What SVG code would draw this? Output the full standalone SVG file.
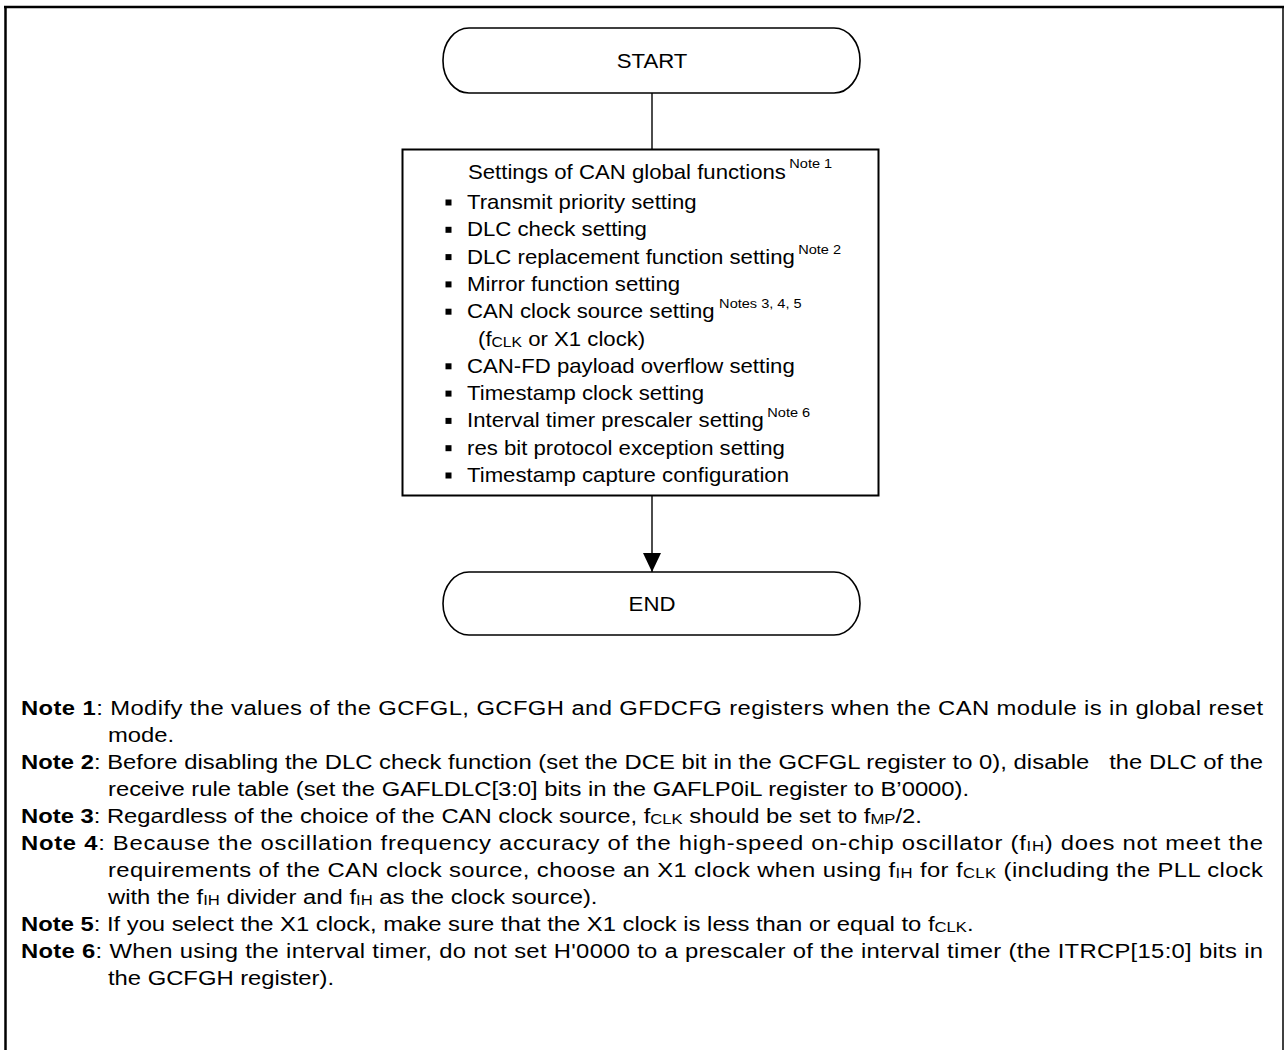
<svg xmlns="http://www.w3.org/2000/svg" width="1286" height="1050" viewBox="0 0 1286 1050">
  <defs>
    <style>
      .frame { stroke: #000; fill: none; }
      .term { fill: #fff; stroke: #000; stroke-width: 1.6; }
      .proc { fill: #fff; stroke: #000; stroke-width: 2; }
      .wire { stroke: #000; stroke-width: 1.4; fill: none; }
      .bx { font-family: "Liberation Sans", Arial, sans-serif; font-size: 19.8px; fill: #000; }
      .sup { font-size: 13px; }
      .sub { font-size: 14px; }
      .nt { font-family: "Liberation Sans", Arial, sans-serif; font-size: 20px; fill: #000; }
      .nb { font-weight: bold; }
      .ns { font-size: 14px; }
      .bullet { fill: #000; }
    </style>
    <marker id="arrow" viewBox="0 0 19 18" refX="19" refY="9" markerWidth="19" markerHeight="18" markerUnits="userSpaceOnUse" orient="auto">
      <path d="M0,0 L19,9 L0,18 z" fill="#000"/>
    </marker>
  </defs>

  <rect width="1286" height="1050" fill="#fff"/>

  <!-- page frame (open at the bottom) -->
  <g id="frame" class="frame">
    <line x1="4" y1="7" x2="1284" y2="7" stroke-width="2.5"/>
    <line x1="5.5" y1="6" x2="5.5" y2="1050" stroke-width="2.5"/>
    <line x1="1283" y1="6" x2="1283" y2="1050" stroke-width="1.5"/>
  </g>

  <!-- connectors -->
  <g id="connectors">
    <line class="wire" x1="652" y1="93" x2="652" y2="149"/>
    <line class="wire" x1="652" y1="496" x2="652" y2="572" marker-end="url(#arrow)"/>
  </g>

  <!-- START terminator -->
  <g id="start">
    <rect class="term" x="443" y="28" width="417" height="65" rx="26" ry="32"/>
    <text class="bx" text-anchor="middle" transform="translate(652,67.5) scale(1.12,1)">START</text>
  </g>

  <!-- global function settings -->
  <g id="settings">
    <rect class="proc" x="402.5" y="149.5" width="476" height="346"/>
    <text class="bx" transform="translate(468,179) scale(1.12,1)">Settings of CAN global functions<tspan class="sup" dx="3" dy="-11">Note 1</tspan></text>

    <rect class="bullet" x="445.5" y="199.5" width="6" height="6"/>
    <text class="bx" transform="translate(467,209) scale(1.12,1)">Transmit priority setting</text>

    <rect class="bullet" x="445.5" y="226.8" width="6" height="6"/>
    <text class="bx" transform="translate(467,236.3) scale(1.12,1)">DLC check setting</text>

    <rect class="bullet" x="445.5" y="254.1" width="6" height="6"/>
    <text class="bx" transform="translate(467,263.6) scale(1.12,1)">DLC replacement function setting<tspan class="sup" dx="3" dy="-10">Note 2</tspan></text>

    <rect class="bullet" x="445.5" y="281.4" width="6" height="6"/>
    <text class="bx" transform="translate(467,290.9) scale(1.12,1)">Mirror function setting</text>

    <rect class="bullet" x="445.5" y="308.7" width="6" height="6"/>
    <text class="bx" transform="translate(467,318.2) scale(1.12,1)">CAN clock source setting<tspan class="sup" dx="4" dy="-10">Notes 3, 4, 5</tspan></text>
    <text class="bx" transform="translate(478,345.5) scale(1.12,1)">(f<tspan class="sub" dy="1">CLK</tspan><tspan dy="-1"> or X1 clock)</tspan></text>

    <rect class="bullet" x="445.5" y="363.3" width="6" height="6"/>
    <text class="bx" transform="translate(467,372.8) scale(1.12,1)">CAN-FD payload overflow setting</text>

    <rect class="bullet" x="445.5" y="390.6" width="6" height="6"/>
    <text class="bx" transform="translate(467,400.1) scale(1.12,1)">Timestamp clock setting</text>

    <rect class="bullet" x="445.5" y="417.9" width="6" height="6"/>
    <text class="bx" transform="translate(467,427.4) scale(1.12,1)">Interval timer prescaler setting<tspan class="sup" dx="3" dy="-10">Note 6</tspan></text>

    <rect class="bullet" x="445.5" y="445.2" width="6" height="6"/>
    <text class="bx" transform="translate(467,454.7) scale(1.12,1)">res bit protocol exception setting</text>

    <rect class="bullet" x="445.5" y="472.5" width="6" height="6"/>
    <text class="bx" transform="translate(467,482) scale(1.12,1)">Timestamp capture configuration</text>
  </g>

  <!-- END terminator -->
  <g id="end">
    <rect class="term" x="443" y="572" width="417" height="63" rx="26" ry="31.5"/>
    <text class="bx" text-anchor="middle" transform="translate(652,610.5) scale(1.12,1)">END</text>
  </g>

  <!-- notes -->
  <g id="notes">
    <text class="nt" transform="translate(21,715) scale(1.19,1)" textLength="1043.7" lengthAdjust="spacing"><tspan class="nb">Note 1</tspan>: Modify the values of the GCFGL, GCFGH and GFDCFG registers when the CAN module is in global reset</text>
    <text class="nt" transform="translate(108,742) scale(1.19,1)">mode.</text>
    <text class="nt" transform="translate(21,769) scale(1.19,1)" textLength="1043.7" lengthAdjust="spacing"><tspan class="nb">Note 2</tspan>: Before disabling the DLC check function (set the DCE bit in the GCFGL register to 0), disable&#160;&#160; the DLC of the</text>
    <text class="nt" transform="translate(108,796) scale(1.19,1)">receive rule table (set the GAFLDLC[3:0] bits in the GAFLP0iL register to B’0000).</text>
    <text class="nt" transform="translate(21,823) scale(1.19,1)"><tspan class="nb">Note 3</tspan>: Regardless of the choice of the CAN clock source, f<tspan class="ns" dy="1">CLK</tspan><tspan dy="-1"> should be set to f</tspan><tspan class="ns" dy="1">MP</tspan><tspan dy="-1">/2.</tspan></text>
    <text class="nt" transform="translate(21,850) scale(1.19,1)" textLength="1043.7" lengthAdjust="spacing"><tspan class="nb">Note 4</tspan>: Because the oscillation frequency accuracy of the high-speed on-chip oscillator (f<tspan class="ns" dy="1">IH</tspan><tspan dy="-1">) does not meet the</tspan></text>
    <text class="nt" transform="translate(108,877) scale(1.19,1)" textLength="970.6" lengthAdjust="spacing">requirements of the CAN clock source, choose an X1 clock when using f<tspan class="ns" dy="1">IH</tspan><tspan dy="-1"> for f</tspan><tspan class="ns" dy="1">CLK</tspan><tspan dy="-1"> (including the PLL clock</tspan></text>
    <text class="nt" transform="translate(108,904) scale(1.19,1)">with the f<tspan class="ns" dy="1">IH</tspan><tspan dy="-1"> divider and f</tspan><tspan class="ns" dy="1">IH</tspan><tspan dy="-1"> as the clock source).</tspan></text>
    <text class="nt" transform="translate(21,931) scale(1.19,1)"><tspan class="nb">Note 5</tspan>: If you select the X1 clock, make sure that the X1 clock is less than or equal to f<tspan class="ns" dy="1">CLK</tspan><tspan dy="-1">.</tspan></text>
    <text class="nt" transform="translate(21,958) scale(1.19,1)" textLength="1043.7" lengthAdjust="spacing"><tspan class="nb">Note 6</tspan>: When using the interval timer, do not set H'0000 to a prescaler of the interval timer (the ITRCP[15:0] bits in</text>
    <text class="nt" transform="translate(108,985) scale(1.19,1)">the GCFGH register).</text>
  </g>
</svg>
